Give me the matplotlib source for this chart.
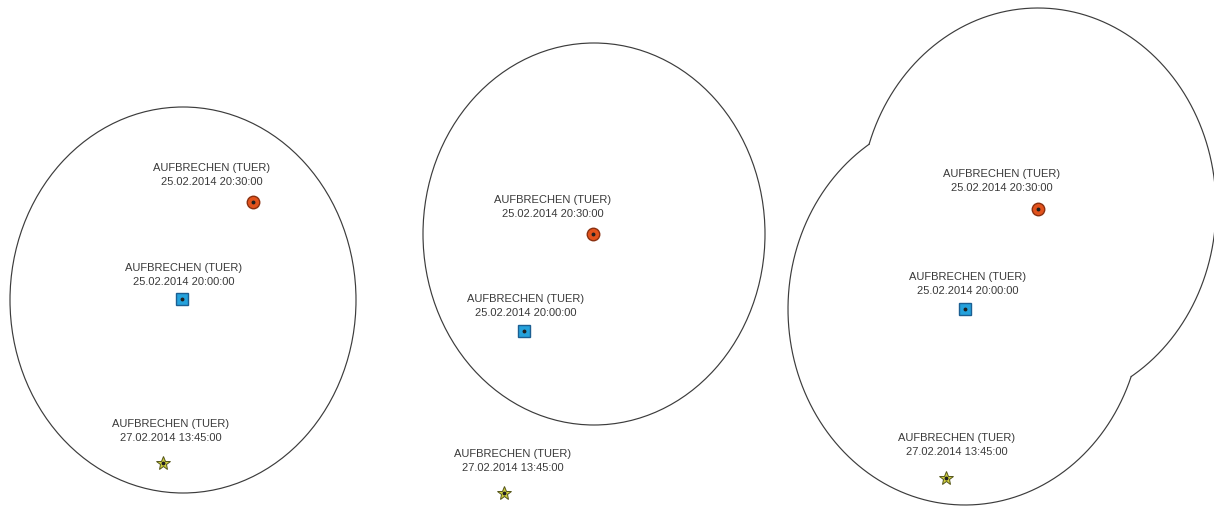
import numpy as np
import matplotlib.pyplot as plt
from matplotlib.patches import Ellipse

plt.rcParams['font.family'] = ['Liberation Sans', 'DejaVu Sans']

# Ereignisse (pro Panel: links, mitte, rechts), Koordinaten in Bildpixeln
event_name = "AUFBRECHEN (TUER)"
times = ["25.02.2014 20:30:00", "25.02.2014 20:00:00", "27.02.2014 13:45:00"]

orange_x = [253, 593, 1038]
orange_y = [202, 234, 209]
blue_x = [182, 524, 965]
blue_y = [299, 331, 309]
star_x = [163, 504, 946]
star_y = [463, 493, 478]

# Label-Positionen (Mitte des zweizeiligen Textes)
lab_orange_x = [212, 553, 1002]
lab_orange_y = [175, 207, 181]
lab_blue_x = [184, 526, 968]
lab_blue_y = [275, 306, 284]
lab_star_x = [171, 513, 957]
lab_star_y = [431, 461, 445]

# Suchzonen: Mittelpunkt und Halbachsen
zone_cx = [183, 594, 1038, 965]
zone_cy = [300, 234, 207, 309]
zone_rx = [173, 171, 178, 177]
zone_ry = [193, 191, 199, 196]
zone_panel = [0, 1, 2, 2]

line_col = "#3c3c3c"
text_col = "#3a3a3a"

fig = plt.figure(figsize=(12.14, 5.07), dpi=100)
ax = fig.add_axes([0, 0, 1, 1])
ax.set_xlim(0, 1214)
ax.set_ylim(507, 0)
ax.axis("off")

# Panel 1 und 2: einfache Ellipsen
for i in range(2):
    e = Ellipse((zone_cx[i], zone_cy[i]), 2 * zone_rx[i], 2 * zone_ry[i],
                fill=False, edgecolor=line_col, lw=0.85)
    ax.add_patch(e)

# Panel 3: Vereinigung zweier Ellipsen (nur äußerer Rand)
t = np.linspace(0, 2 * np.pi, 2000)
idx = [i for i in range(len(zone_cx)) if zone_panel[i] == 2]
for i in idx:
    px = zone_cx[i] + zone_rx[i] * np.cos(t)
    py = zone_cy[i] + zone_ry[i] * np.sin(t)
    mask = np.ones_like(t, dtype=bool)
    for j in idx:
        if j == i:
            continue
        inside = ((px - zone_cx[j]) / zone_rx[j]) ** 2 + ((py - zone_cy[j]) / zone_ry[j]) ** 2 < 1
        mask &= ~inside
    px = np.where(mask, px, np.nan)
    py = np.where(mask, py, np.nan)
    ax.plot(px, py, color=line_col, lw=0.85)

# Marker
ax.plot(orange_x, orange_y, "o", ms=9, mfc="#e2521c", mec="#8a3010", mew=1.0, ls="none")
ax.plot(blue_x, blue_y, "s", ms=9, mfc="#25a2dc", mec="#1c5f92", mew=1.0, ls="none")
ax.plot(star_x, star_y, "*", ms=10, mfc="#cfcf3c", mec="#55551c", mew=0.7, ls="none")
cx = orange_x + blue_x + star_x
cy = orange_y + blue_y + star_y
ax.plot(cx, cy, "o", ms=1.8, color="#202020", ls="none")

# Beschriftungen
groups = [(lab_orange_x, lab_orange_y, times[0]),
          (lab_blue_x, lab_blue_y, times[1]),
          (lab_star_x, lab_star_y, times[2])]
for lx, ly, tm in groups:
    for x, y in zip(lx, ly):
        ax.text(x, y, event_name + "\n" + tm, ha="center", va="center",
                fontsize=8, color=text_col, linespacing=1.45)

fig.savefig("out.png", dpi=100)
